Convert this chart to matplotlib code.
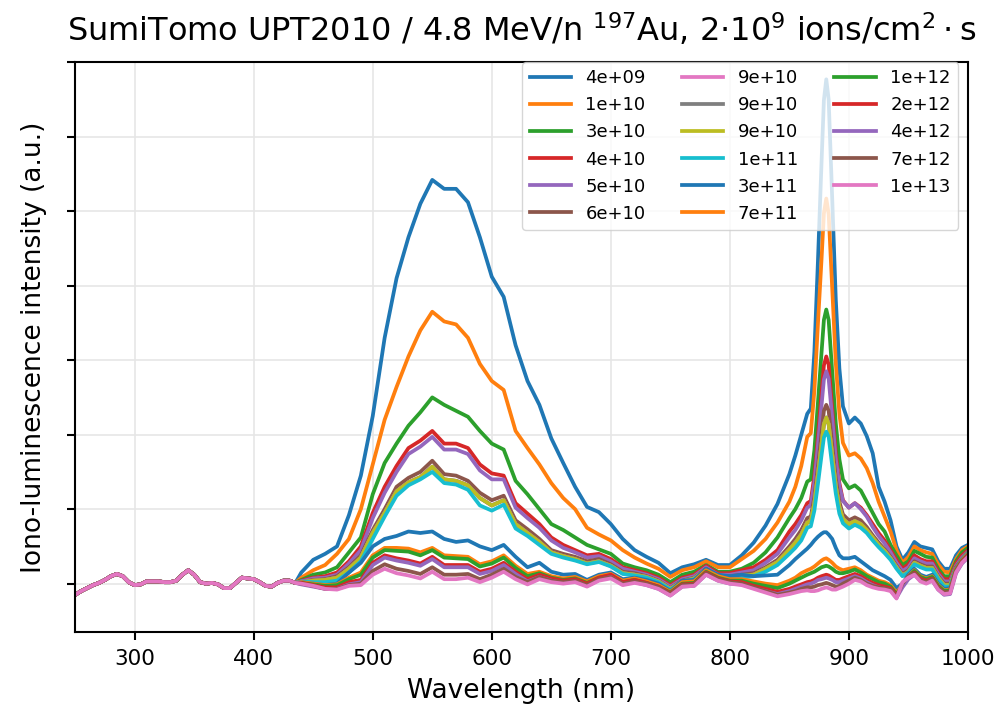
import matplotlib.pyplot as plt
import numpy as np

# wavelength grids (nm)
wl_uv = [250, 255, 260, 265, 270, 275, 280, 285, 290, 295,
         300, 305, 310, 315, 320, 325, 330, 335, 340, 345,
         350, 355, 360, 365, 370, 375, 380, 385, 390, 395,
         400, 405, 410, 415, 420, 425, 430, 435]
wl_vis = [440, 450, 460, 470, 480, 490, 500, 510, 520, 530, 540,
          550, 560, 570, 580, 590, 600, 610, 620, 630, 640, 650,
          660, 670, 680, 690, 700, 710, 720, 730, 740, 750, 760,
          770, 780, 790, 800, 810, 820, 830, 840,
          850, 855, 860, 865, 868, 871, 874, 877,
          879, 881, 883, 886, 889, 892, 895, 900, 905, 910, 915, 920,
          925, 930, 935, 940, 945, 950, 955, 960, 965, 970, 975, 980, 985, 990, 995, 1000]

# common background below 440 nm (all fluences overlap there)
base_uv = [-0.15, -0.10, -0.06, -0.02, 0.01, 0.05, 0.10, 0.13, 0.10, 0.02,
           -0.02, -0.01, 0.03, 0.03, 0.03, 0.02, 0.02, 0.04, 0.12, 0.18,
           0.12, 0.02, 0.00, 0.01, -0.01, -0.06, -0.06, 0.01, 0.08, 0.07,
           0.06, 0.02, -0.03, -0.04, 0.01, 0.04, 0.04, 0.01]

fluences = ['4e+09', '1e+10', '3e+10', '4e+10', '5e+10', '6e+10', '9e+10', '9e+10', '9e+10',
            '1e+11', '3e+11', '7e+11', '1e+12', '2e+12', '4e+12', '7e+12', '1e+13']

f_4e09 = [0.15, 0.32, 0.40, 0.50, 0.92, 1.45, 2.25, 3.30, 4.10, 4.65, 5.10,
          5.42, 5.30, 5.30, 5.12, 4.65, 4.12, 3.85, 3.20, 2.72, 2.40, 1.95,
          1.62, 1.30, 1.03, 0.96, 0.80, 0.60, 0.45, 0.36, 0.28, 0.14, 0.22,
          0.26, 0.32, 0.25, 0.25, 0.38, 0.55, 0.78, 1.07,
          1.47, 1.72, 2.00, 2.28, 2.35, 3.11, 4.33, 5.65,
          6.49, 6.77, 6.50, 5.16, 3.81, 2.89, 2.38, 2.15, 2.23, 2.15, 1.98, 1.75,
          1.30, 1.10, 0.85, 0.50, 0.32, 0.42, 0.56, 0.50, 0.48, 0.46, 0.30, 0.20, 0.20, 0.38, 0.48, 0.52]
f_1e10 = [0.08, 0.18, 0.25, 0.40, 0.60, 1.00, 1.60, 2.20, 2.64, 3.05, 3.40,
          3.65, 3.52, 3.48, 3.30, 2.95, 2.72, 2.60, 2.05, 1.82, 1.60, 1.35,
          1.15, 1.00, 0.75, 0.66, 0.58, 0.45, 0.35, 0.27, 0.20, 0.09, 0.18,
          0.22, 0.30, 0.22, 0.22, 0.33, 0.44, 0.60, 0.82,
          1.10, 1.30, 1.58, 1.97, 2.02, 2.59, 3.49, 4.35,
          4.97, 5.17, 4.96, 3.96, 2.96, 2.28, 1.89, 1.72, 1.75, 1.68, 1.55, 1.35,
          1.10, 0.90, 0.70, 0.45, 0.28, 0.36, 0.50, 0.45, 0.42, 0.40, 0.26, 0.16, 0.15, 0.33, 0.45, 0.50]
f_3e10 = [0.05, 0.12, 0.15, 0.22, 0.42, 0.62, 1.20, 1.62, 1.88, 2.12, 2.30,
          2.50, 2.40, 2.32, 2.24, 2.05, 1.88, 1.80, 1.38, 1.20, 1.00, 0.80,
          0.72, 0.62, 0.52, 0.46, 0.40, 0.27, 0.22, 0.18, 0.12, 0.02, 0.12,
          0.16, 0.25, 0.16, 0.16, 0.20, 0.28, 0.42, 0.62,
          0.88, 1.00, 1.15, 1.37, 1.40, 1.79, 2.43, 3.10,
          3.54, 3.68, 3.54, 2.84, 2.15, 1.67, 1.40, 1.28, 1.32, 1.25, 1.10, 0.95,
          0.80, 0.70, 0.52, 0.38, 0.25, 0.30, 0.44, 0.40, 0.36, 0.35, 0.20, 0.10, 0.10, 0.30, 0.42, 0.48]
f_4e10 = [0.04, 0.08, 0.10, 0.15, 0.30, 0.50, 0.95, 1.30, 1.58, 1.82, 1.92,
          2.05, 1.88, 1.88, 1.82, 1.60, 1.48, 1.45, 1.08, 0.94, 0.80, 0.62,
          0.52, 0.45, 0.38, 0.40, 0.33, 0.22, 0.18, 0.14, 0.08, -0.02, 0.08,
          0.12, 0.24, 0.14, 0.14, 0.18, 0.22, 0.32, 0.45,
          0.70, 0.80, 0.92, 1.08, 1.11, 1.45, 1.98, 2.56,
          2.93, 3.05, 2.94, 2.34, 1.75, 1.35, 1.12, 1.02, 1.08, 1.02, 0.92, 0.80,
          0.68, 0.58, 0.45, 0.32, 0.20, 0.26, 0.38, 0.33, 0.30, 0.30, 0.16, 0.06, 0.06, 0.27, 0.38, 0.45]
f_5e10 = [0.03, 0.07, 0.08, 0.12, 0.27, 0.45, 0.88, 1.22, 1.50, 1.74, 1.84,
          1.97, 1.80, 1.80, 1.74, 1.52, 1.40, 1.40, 1.02, 0.88, 0.75, 0.58,
          0.48, 0.42, 0.35, 0.37, 0.30, 0.20, 0.16, 0.12, 0.06, -0.04, 0.06,
          0.10, 0.22, 0.12, 0.12, 0.15, 0.18, 0.28, 0.40,
          0.62, 0.72, 0.85, 1.02, 1.05, 1.36, 1.86, 2.39,
          2.74, 2.85, 2.75, 2.22, 1.67, 1.31, 1.11, 1.02, 1.08, 1.00, 0.90, 0.76,
          0.64, 0.54, 0.42, 0.28, 0.17, 0.22, 0.34, 0.30, 0.27, 0.27, 0.13, 0.03, 0.03, 0.24, 0.35, 0.43]
f_6e10 = [0.02, 0.05, 0.06, 0.10, 0.22, 0.38, 0.72, 1.00, 1.30, 1.42, 1.50,
          1.65, 1.47, 1.45, 1.38, 1.22, 1.12, 1.18, 0.85, 0.73, 0.60, 0.45,
          0.40, 0.36, 0.30, 0.33, 0.26, 0.16, 0.14, 0.10, 0.04, -0.06, 0.04,
          0.08, 0.20, 0.10, 0.10, 0.12, 0.14, 0.22, 0.32,
          0.50, 0.60, 0.72, 0.88, 0.90, 1.16, 1.58, 2.02,
          2.32, 2.40, 2.32, 1.87, 1.41, 1.10, 0.93, 0.85, 0.89, 0.85, 0.76, 0.65,
          0.55, 0.46, 0.36, 0.24, 0.13, 0.18, 0.30, 0.26, 0.23, 0.23, 0.10, 0.00, 0.00, 0.22, 0.33, 0.42]
# the three 9e+10 spectra lie on top of each other
f_9e10 = [0.02, 0.04, 0.05, 0.08, 0.20, 0.35, 0.68, 0.95, 1.24, 1.36, 1.43,
          1.57, 1.40, 1.38, 1.32, 1.15, 1.05, 1.12, 0.80, 0.68, 0.56, 0.42,
          0.37, 0.33, 0.27, 0.30, 0.24, 0.14, 0.12, 0.09, 0.03, -0.07, 0.03,
          0.07, 0.19, 0.09, 0.09, 0.11, 0.12, 0.20, 0.29,
          0.46, 0.55, 0.66, 0.82, 0.84, 1.08, 1.47, 1.87,
          2.14, 2.23, 2.14, 1.73, 1.31, 1.03, 0.87, 0.80, 0.84, 0.80, 0.72, 0.62,
          0.52, 0.44, 0.34, 0.22, 0.11, 0.16, 0.28, 0.24, 0.21, 0.21, 0.08, -0.02, -0.02, 0.20, 0.32, 0.41]
f_1e11 = [0.03, 0.02, 0.02, 0.04, 0.15, 0.30, 0.60, 0.90, 1.18, 1.32, 1.40,
          1.50, 1.35, 1.33, 1.26, 1.05, 0.98, 1.06, 0.74, 0.64, 0.52, 0.40,
          0.35, 0.31, 0.26, 0.29, 0.23, 0.13, 0.11, 0.08, 0.02, -0.08, 0.02,
          0.06, 0.18, 0.08, 0.07, 0.08, 0.10, 0.16, 0.25,
          0.40, 0.48, 0.58, 0.75, 0.77, 0.98, 1.34, 1.72,
          1.96, 2.04, 1.97, 1.58, 1.21, 0.94, 0.81, 0.74, 0.79, 0.75, 0.68, 0.58,
          0.49, 0.41, 0.32, 0.20, 0.10, 0.15, 0.26, 0.22, 0.19, 0.19, 0.06, -0.04, -0.04, 0.19, 0.31, 0.40]
f_3e11 = [0.02, 0.00, -0.02, 0.00, 0.15, 0.28, 0.50, 0.60, 0.64, 0.70, 0.68,
          0.70, 0.60, 0.56, 0.58, 0.50, 0.45, 0.52, 0.36, 0.22, 0.28, 0.16,
          0.12, 0.13, 0.05, 0.12, 0.15, 0.06, 0.08, 0.05, 0.00, -0.10, 0.04,
          0.05, 0.20, 0.12, 0.10, 0.12, 0.10, 0.11, 0.12,
          0.25, 0.33, 0.40, 0.47, 0.52, 0.58, 0.63, 0.67,
          0.69, 0.69, 0.66, 0.60, 0.48, 0.38, 0.34, 0.34, 0.36, 0.30, 0.24, 0.18,
          0.14, 0.10, 0.05, -0.06, 0.00, 0.12, 0.20, 0.12, 0.09, 0.12, 0.00, -0.07, -0.06, 0.20, 0.32, 0.40]
f_7e11 = [0.02, 0.00, -0.02, -0.01, 0.08, 0.15, 0.38, 0.48, 0.48, 0.47, 0.42,
          0.48, 0.38, 0.37, 0.36, 0.26, 0.30, 0.38, 0.24, 0.13, 0.16, 0.10,
          0.07, 0.09, 0.03, 0.10, 0.13, 0.04, 0.07, 0.03, -0.02, -0.11, 0.02,
          0.03, 0.18, 0.10, 0.06, 0.06, 0.03, 0.00, -0.02,
          0.04, 0.08, 0.14, 0.18, 0.20, 0.23, 0.27, 0.31,
          0.33, 0.34, 0.32, 0.28, 0.23, 0.20, 0.18, 0.20, 0.22, 0.18, 0.12, 0.08,
          0.04, 0.02, -0.02, -0.12, -0.02, 0.10, 0.18, 0.10, 0.07, 0.10, -0.02, -0.09, -0.08, 0.19, 0.31, 0.39]
f_1e12 = [0.01, -0.01, -0.03, -0.02, 0.06, 0.12, 0.35, 0.45, 0.44, 0.43, 0.38,
          0.45, 0.35, 0.34, 0.33, 0.23, 0.27, 0.35, 0.21, 0.10, 0.14, 0.08,
          0.05, 0.07, 0.01, 0.08, 0.11, 0.02, 0.05, 0.01, -0.04, -0.12, 0.00,
          0.01, 0.16, 0.08, 0.04, 0.04, 0.00, -0.03, -0.06,
          0.00, 0.04, 0.08, 0.12, 0.14, 0.16, 0.19, 0.22,
          0.23, 0.24, 0.23, 0.20, 0.16, 0.14, 0.14, 0.16, 0.19, 0.15, 0.10, 0.06,
          0.02, 0.00, -0.04, -0.14, -0.03, 0.09, 0.17, 0.09, 0.06, 0.09, -0.03, -0.10, -0.09, 0.18, 0.30, 0.38]
f_2e12 = [0.01, -0.02, -0.05, -0.05, 0.02, 0.05, 0.28, 0.38, 0.34, 0.31, 0.27,
          0.36, 0.25, 0.25, 0.25, 0.16, 0.20, 0.28, 0.16, 0.06, 0.12, 0.07,
          0.04, 0.06, 0.00, 0.08, 0.12, 0.02, 0.05, 0.01, -0.04, -0.13, -0.01,
          0.00, 0.15, 0.07, 0.03, 0.02, -0.03, -0.07, -0.11,
          -0.07, -0.04, -0.01, 0.02, 0.03, 0.05, 0.08, 0.10,
          0.11, 0.12, 0.11, 0.08, 0.05, 0.05, 0.07, 0.10, 0.13, 0.10, 0.05, 0.01,
          -0.02, -0.04, -0.06, -0.16, -0.02, 0.09, 0.15, 0.07, 0.04, 0.07, -0.05, -0.12, -0.11, 0.17, 0.30, 0.38]
f_4e12 = [-0.01, -0.04, -0.07, -0.07, -0.01, 0.02, 0.25, 0.35, 0.31, 0.28, 0.24,
          0.33, 0.22, 0.22, 0.22, 0.13, 0.17, 0.25, 0.13, 0.03, 0.09, 0.04,
          0.01, 0.03, -0.03, 0.05, 0.09, -0.01, 0.02, -0.02, -0.07, -0.16, -0.04,
          -0.03, 0.12, 0.04, 0.00, -0.01, -0.06, -0.10, -0.14,
          -0.10, -0.07, -0.04, -0.01, 0.00, 0.02, 0.05, 0.06,
          0.07, 0.08, 0.07, 0.05, 0.02, 0.02, 0.04, 0.07, 0.10, 0.07, 0.02, -0.02,
          -0.05, -0.07, -0.09, -0.19, -0.05, 0.06, 0.12, 0.04, 0.01, 0.04, -0.08, -0.15, -0.14, 0.14, 0.27, 0.35]
f_7e12 = [0.00, -0.03, -0.07, -0.07, -0.02, 0.00, 0.17, 0.26, 0.20, 0.17, 0.13,
          0.22, 0.12, 0.12, 0.13, 0.06, 0.12, 0.20, 0.09, 0.02, 0.09, 0.04,
          0.02, 0.04, -0.02, 0.06, 0.09, 0.00, 0.03, 0.00, -0.05, -0.14, -0.02,
          -0.01, 0.14, 0.06, 0.02, 0.00, -0.05, -0.10, -0.15,
          -0.12, -0.10, -0.07, -0.05, -0.05, -0.04, -0.02, -0.01,
          0.00, 0.01, 0.00, -0.02, -0.04, -0.03, 0.00, 0.04, 0.08, 0.05, 0.00, -0.03,
          -0.05, -0.06, -0.08, -0.18, 0.00, 0.10, 0.14, 0.05, 0.02, 0.06, -0.06, -0.12, -0.11, 0.17, 0.29, 0.37]
f_1e13 = [0.00, -0.03, -0.07, -0.08, -0.03, -0.02, 0.12, 0.20, 0.14, 0.11, 0.07,
          0.16, 0.06, 0.06, 0.08, 0.02, 0.08, 0.16, 0.06, -0.01, 0.06, 0.02,
          0.00, 0.02, -0.04, 0.04, 0.07, -0.02, 0.01, -0.02, -0.07, -0.16, -0.04,
          -0.03, 0.12, 0.04, 0.00, -0.02, -0.07, -0.12, -0.17,
          -0.14, -0.12, -0.10, -0.09, -0.10, -0.10, -0.09, -0.07,
          -0.06, -0.05, -0.06, -0.08, -0.08, -0.06, -0.04, 0.00, 0.05, 0.03, -0.02, -0.05,
          -0.07, -0.08, -0.10, -0.20, 0.02, 0.08, 0.12, 0.03, 0.00, 0.04, -0.08, -0.14, -0.13, 0.15, 0.28, 0.36]

spectra = [f_4e09, f_1e10, f_3e10, f_4e10, f_5e10, f_6e10, f_9e10, f_9e10, f_9e10,
           f_1e11, f_3e11, f_7e11, f_1e12, f_2e12, f_4e12, f_7e12, f_1e13]

wl = np.array(wl_uv + wl_vis)

fig = plt.figure(figsize=(10.02, 7.15), dpi=100)
ax = fig.add_axes([0.075, 0.116, 0.891, 0.797])

for lab, sp in zip(fluences, spectra):
    assert len(sp) == len(wl_vis)
    ax.plot(wl, np.array(base_uv + sp), lw=2.7, label=lab)

ax.set_xlim(250, 1000)
ax.set_ylim(-0.65, 7.0)
ax.set_yticks(range(8))
ax.set_yticklabels([])
ax.grid(True, color='#e6e6e6', lw=1.2)
ax.tick_params(axis='both', length=6, width=1.5, labelsize=15.5, pad=6)
for s in ax.spines.values():
    s.set_linewidth(1.5)

ax.set_xlabel('Wavelength (nm)', fontsize=19, labelpad=7)
ax.set_ylabel('Iono-luminescence intensity (a.u.)', fontsize=19, labelpad=8)
ax.set_title(r'SumiTomo UPT2010 / 4.8 MeV/n $^{197}$Au, 2$\cdot$10$^{9}$ ions/cm$^2\cdot$s',
             fontsize=23, pad=15)

ax.legend(ncol=3, loc='upper right', bbox_to_anchor=(0.989, 1.0), borderaxespad=0,
          fontsize=13, handlelength=2.3)

fig.savefig('out.png', dpi=100)
